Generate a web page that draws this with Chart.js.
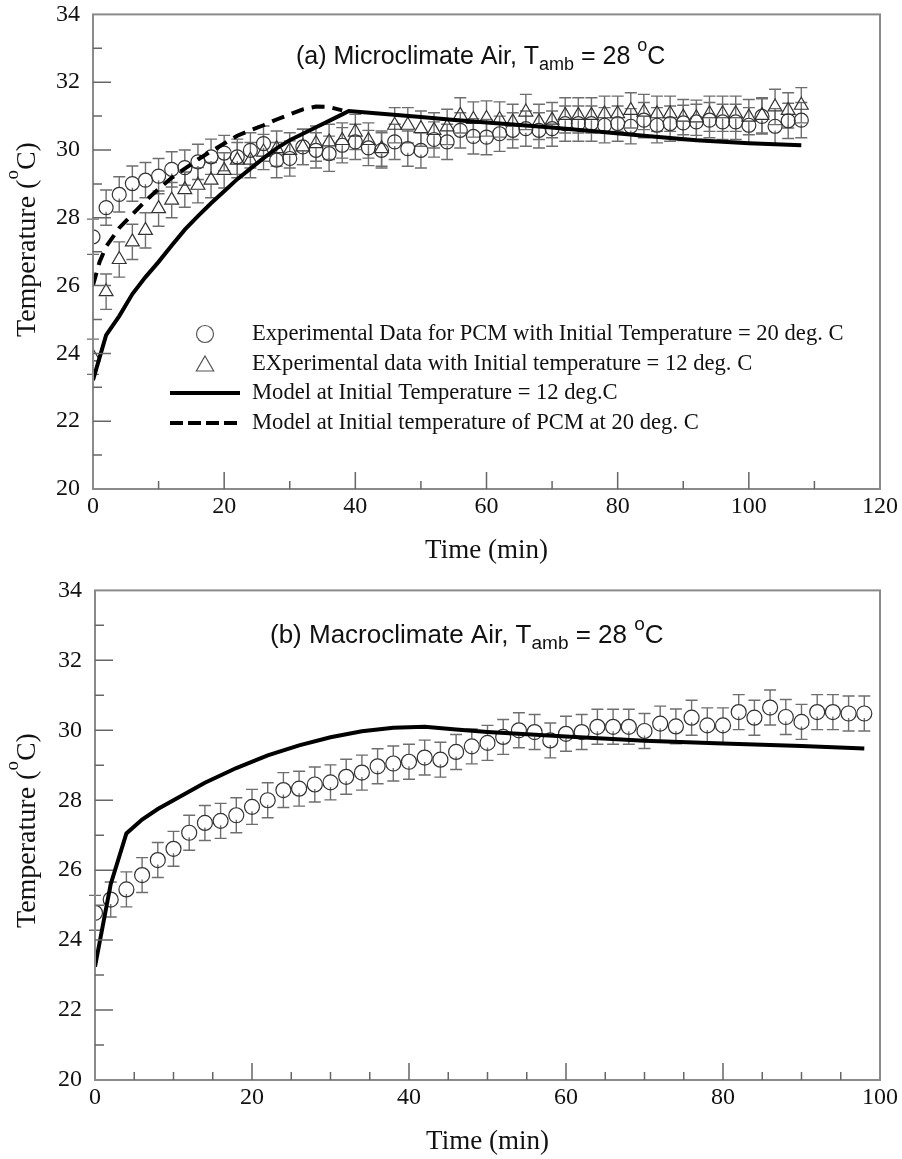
<!DOCTYPE html>
<html>
<head>
<meta charset="utf-8">
<script src="https://cdn.jsdelivr.net/npm/chart.js@4.4.1/dist/chart.umd.min.js"></script>
<style>
  html, body { margin: 0; padding: 0; background: #fff; overflow: hidden; }
  #wrap { position: relative; width: 902px; height: 1159px; overflow: hidden; }
  canvas { position: absolute; left: 0; }
  #chartA { top: -13px; }
  #chartB { top: 563px; }
</style>
</head>
<body>
<div id="wrap">
  <canvas id="chartA" width="902" height="593"></canvas>
  <canvas id="chartB" width="902" height="596"></canvas>
</div>
<script>
// ---- data ----
// (a) microclimate air, experimental points every 2 min
const timeA = [0,2,4,6,8,10,12,14,16,18,20,22,24,26,28,30,32,34,36,38,40,42,44,46,48,50,52,54,
  56,58,60,62,64,66,68,70,72,74,76,78,80,82,84,86,88,90,92,94,96,98,100,102,104,106,108];
const expA20 = [27.44,28.30,28.69,29.01,29.11,29.23,29.43,29.48,29.65,29.80,29.91,29.80,29.99,30.19,
  29.70,29.75,30.09,29.99,29.89,30.14,30.24,30.06,29.99,30.24,30.04,29.99,30.31,30.24,30.58,30.40,
  30.38,30.48,30.58,30.63,30.58,30.63,30.78,30.78,30.78,30.73,30.78,30.70,30.88,30.73,30.78,30.80,
  30.83,30.88,30.83,30.83,30.73,30.99,30.70,30.86,30.88];
const expA12 = [23.90,25.82,26.77,27.29,27.63,28.27,28.52,28.83,28.96,29.11,29.40,29.70,29.70,29.94,
  30.04,29.99,30.09,30.19,30.24,30.28,30.53,30.28,30.04,30.73,30.73,30.63,30.58,30.68,31.02,30.90,
  30.93,30.90,30.83,31.12,30.83,30.88,31.02,31.02,31.02,31.07,31.07,31.17,31.12,31.07,31.07,30.97,
  30.95,31.07,31.07,31.07,30.97,31.02,31.27,31.17,31.32];
const errA = 0.52;

// (a) model curves
const modelA12Time = [0,2,4,6,8,10,12,14,16,18,20,22,24,26,28,30,32,34,36,38,39,44,50,56,62,69,76,84,92,100,108];
const modelA12 = [23.21,24.54,25.10,25.75,26.25,26.70,27.18,27.65,28.05,28.43,28.78,29.14,29.45,29.76,
  30.05,30.29,30.48,30.67,30.86,31.05,31.15,31.07,30.97,30.87,30.78,30.68,30.56,30.42,30.29,30.20,30.14];
const modelA20Time = [0,1,2,4,6,8,10,12,14,16,18,20,22,24,26,28,30,32,34,36,38];
const modelA20 = [26.01,26.70,27.15,27.70,28.10,28.50,28.85,29.18,29.45,29.72,29.96,30.19,30.42,30.58,
  30.73,30.90,31.05,31.20,31.28,31.27,31.17];

// (b) macroclimate air
const timeB = [0,2,4,6,8,10,12,14,16,18,20,22,24,26,28,30,32,34,36,38,40,42,44,46,48,50,52,54,
  56,58,60,62,64,66,68,70,72,74,76,78,80,82,84,86,88,90,92,94,96,98];
const expB = [24.78,25.16,25.45,25.86,26.29,26.61,27.07,27.35,27.41,27.57,27.81,28.00,28.29,28.33,
  28.45,28.51,28.67,28.79,28.97,29.05,29.10,29.22,29.16,29.38,29.54,29.64,29.81,30.00,29.95,29.71,
  29.90,29.95,30.10,30.10,30.10,29.98,30.19,30.11,30.36,30.14,30.14,30.52,30.36,30.65,30.38,30.24,
  30.52,30.52,30.48,30.48];
const errB = 0.5;
const modelBTime = [0,2,4,6,8,10,14,18,22,26,30,34,38,42,46,50,60,70,80,90,98];
const modelB = [23.24,25.60,27.05,27.45,27.75,28.00,28.50,28.92,29.28,29.57,29.80,29.97,30.07,30.10,
  30.02,29.95,29.82,29.70,29.62,29.55,29.48];

const legendA = [
  'Experimental Data for PCM with Initial Temperature = 20 deg. C',
  'EXperimental data with Initial temperature = 12 deg. C',
  'Model at Initial Temperature = 12 deg.C',
  'Model at Initial temperature of PCM at 20 deg. C'
];

const serif = "'Liberation Serif', 'Times New Roman', serif";
const sans = "'Liberation Sans', Arial, sans-serif";

function pts(xs, ys) { return xs.map((x, i) => ({ x: x, y: ys[i] })); }

// draw a run of text pieces (for sub/superscripts)
function drawParts(ctx, parts, x, y) {
  parts.forEach(p => {
    ctx.font = p.size + 'px ' + p.family;
    ctx.fillText(p.t, x, y + (p.dy || 0));
    x += ctx.measureText(p.t).width;
  });
}

function triangle(ctx, x, y, r) {
  ctx.beginPath();
  ctx.moveTo(x, y - r);
  ctx.lineTo(x + r * 0.866, y + r / 2);
  ctx.lineTo(x - r * 0.866, y + r / 2);
  ctx.closePath();
  ctx.stroke();
}

// error bars, frame, inward ticks, titles, legend
const decor = {
  id: 'decor',
  beforeDatasetsDraw(chart) {
    const ctx = chart.ctx, ys = chart.scales.y;
    ctx.save();
    ctx.strokeStyle = '#6e6e6e';
    ctx.lineWidth = 1.4;
    chart.data.datasets.forEach((ds, i) => {
      if (!ds.errorBar) return;
      const meta = chart.getDatasetMeta(i);
      meta.data.forEach((pt, j) => {
        const v = ds.data[j].y;
        const yt = ys.getPixelForValue(v + ds.errorBar);
        const yb = ys.getPixelForValue(v - ds.errorBar);
        const r = ds.pointRadius;
        ctx.beginPath();
        ctx.moveTo(pt.x, yt); ctx.lineTo(pt.x, pt.y - r);
        ctx.moveTo(pt.x, pt.y + r * 0.6); ctx.lineTo(pt.x, yb);
        ctx.moveTo(pt.x - 6, yt); ctx.lineTo(pt.x + 6, yt);
        ctx.moveTo(pt.x - 6, yb); ctx.lineTo(pt.x + 6, yb);
        ctx.stroke();
      });
    });
    ctx.restore();
  },
  afterDraw(chart, args, o) {
    const ctx = chart.ctx, ca = chart.chartArea, xs = chart.scales.x, ys = chart.scales.y;
    ctx.save();
    // frame
    ctx.strokeStyle = '#8a8a8a';
    ctx.lineWidth = 2;
    ctx.strokeRect(ca.left, ca.top, ca.right - ca.left, ca.bottom - ca.top);
    // ticks pointing inwards
    ctx.strokeStyle = '#666';
    ctx.lineWidth = 1.5;
    ctx.beginPath();
    for (let v = ys.min + 1; v < ys.max; v += 1) {
      const y = ys.getPixelForValue(v), len = v % 2 === 0 ? 18 : 9;
      ctx.moveTo(ca.left, y); ctx.lineTo(ca.left + len, y);
    }
    for (let v = xs.min + o.minorX; v < xs.max; v += o.minorX) {
      const x = xs.getPixelForValue(v), len = v % 20 === 0 ? 17 : 8;
      ctx.moveTo(x, ca.bottom); ctx.lineTo(x, ca.bottom - len);
    }
    ctx.stroke();

    ctx.fillStyle = '#111';
    ctx.textBaseline = 'alphabetic';
    ctx.textAlign = 'left';
    // panel title
    const fs = o.titleSize, ss = Math.round(fs * 0.72);
    drawParts(ctx, [
      { t: o.title, size: fs, family: sans },
      { t: 'amb', size: ss, family: sans, dy: 6 },
      { t: ' = 28 ', size: fs, family: sans },
      { t: 'o', size: ss, family: sans, dy: -13 },
      { t: 'C', size: fs, family: sans }
    ], o.titleX, ca.top + o.titleDy);

    // x axis title
    ctx.font = '27px ' + serif;
    ctx.textAlign = 'center';
    ctx.fillText('Time (min)', (ca.left + ca.right) / 2, ca.bottom + 69);

    // y axis title (rotated)
    ctx.save();
    ctx.translate(35, ca.bottom - 152);
    ctx.rotate(-Math.PI / 2);
    ctx.textAlign = 'left';
    drawParts(ctx, [
      { t: 'Temperature (', size: 28, family: serif },
      { t: 'o', size: 19, family: serif, dy: -17 },
      { t: 'C)', size: 28, family: serif }
    ], 0, 0);
    ctx.restore();

    // legend (positions in page pixels, shifted to this canvas)
    if (o.legend) {
      const ds = chart.data.datasets, off = o.offsetY;
      const rows = [
        { d: ds[2], y: 334 }, { d: ds[3], y: 364 }, { d: ds[0], y: 393 }, { d: ds[1], y: 423 }
      ];
      rows.forEach(r => {
        const d = r.d, y = r.y + off;
        ctx.save();
        if (d.showLine) {
          ctx.strokeStyle = '#000';
          ctx.lineWidth = 4;
          ctx.setLineDash(d.borderDash ? [13, 5] : []);
          ctx.beginPath();
          ctx.moveTo(170, y); ctx.lineTo(240, y);
          ctx.stroke();
        } else if (d.pointStyle === 'triangle') {
          ctx.strokeStyle = '#555'; ctx.lineWidth = 1.2;
          triangle(ctx, 205, y + 2, 10);
        } else {
          ctx.strokeStyle = '#555'; ctx.lineWidth = 1.2;
          ctx.beginPath(); ctx.arc(205, y, 8.5, 0, Math.PI * 2); ctx.stroke();
        }
        ctx.restore();
        ctx.font = '22.6px ' + serif;
        ctx.textAlign = 'left';
        ctx.textBaseline = 'middle';
        ctx.fillStyle = '#111';
        ctx.fillText(d.label, 252, y);
      });
    }
    ctx.restore();
  }
};

function scales(xMax, leftW, bottomH) {
  return {
    x: {
      type: 'linear', min: 0, max: xMax,
      afterFit: s => { s.height = bottomH; },
      grid: { display: false, drawTicks: false },
      border: { display: false },
      ticks: { stepSize: 20, padding: 3, color: '#111', font: { family: serif, size: 24 } }
    },
    y: {
      type: 'linear', min: 20, max: 34,
      afterFit: s => { s.width = leftW; },
      grid: { display: false, drawTicks: false },
      border: { display: false },
      ticks: { stepSize: 2, padding: 13, color: '#111', font: { family: serif, size: 24 } }
    }
  };
}

function baseOptions(xMax, leftW, bottomH, pad, decorOpts) {
  return {
    responsive: false,
    animation: false,
    devicePixelRatio: 1,
    layout: { padding: pad },
    scales: scales(xMax, leftW, bottomH),
    plugins: { legend: { display: false }, tooltip: { enabled: false }, decor: decorOpts }
  };
}

new Chart(document.getElementById('chartA'), {
  type: 'scatter',
  data: {
    datasets: [
      { label: legendA[2], data: pts(modelA12Time, modelA12), showLine: true, borderColor: '#000',
        borderWidth: 4, pointRadius: 0, tension: 0 },
      { label: legendA[3], data: pts(modelA20Time, modelA20), showLine: true, borderColor: '#000',
        borderWidth: 4, borderDash: [13, 8], pointRadius: 0, tension: 0 },
      { label: legendA[0], data: pts(timeA, expA20), pointStyle: 'circle', pointRadius: 7,
        borderColor: '#333', borderWidth: 1.2, backgroundColor: 'rgba(0,0,0,0)', errorBar: errA },
      { label: legendA[1], data: pts(timeA, expA12), pointStyle: 'triangle', pointRadius: 8,
        borderColor: '#333', borderWidth: 1.2, backgroundColor: 'rgba(0,0,0,0)', errorBar: errA }
    ]
  },
  options: baseOptions(120, 93, 91, { top: 0, right: 22, left: 0, bottom: 0 },
    { minorX: 10, title: '(a) Microclimate Air, T', titleX: 296, titleDy: 50, titleSize: 25,
      legend: true, offsetY: 13 }),
  plugins: [decor]
});

new Chart(document.getElementById('chartB'), {
  type: 'scatter',
  data: {
    datasets: [
      { label: 'Model', data: pts(modelBTime, modelB), showLine: true, borderColor: '#000',
        borderWidth: 4, pointRadius: 0, tension: 0 },
      { label: 'Experimental', data: pts(timeB, expB), pointStyle: 'circle', pointRadius: 7.5,
        borderColor: '#333', borderWidth: 1.2, backgroundColor: 'rgba(0,0,0,0)', errorBar: errB }
    ]
  },
  options: baseOptions(100, 95, 79, { top: 0, right: 22, left: 0, bottom: 0 },
    { minorX: 5, title: '(b) Macroclimate Air, T', titleX: 270, titleDy: 53, titleSize: 26, legend: false }),
  plugins: [decor]
});
</script>
</body>
</html>
